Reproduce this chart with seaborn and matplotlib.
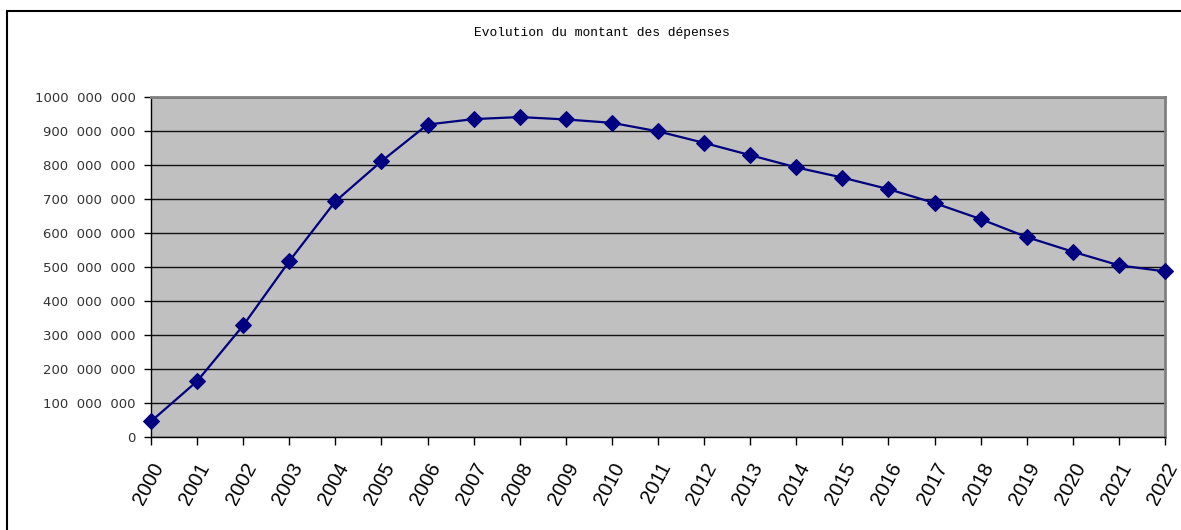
import matplotlib
matplotlib.use("Agg")
import matplotlib.pyplot as plt
from matplotlib.lines import Line2D
from matplotlib.ticker import FuncFormatter
import seaborn as sns
import pandas as pd

# Yearly spending amounts (euros)
years = list(range(2000, 2023))
montants = [
    46e6, 164e6, 328e6, 517e6, 693e6, 811e6, 919e6, 935e6, 941e6, 934e6,
    924e6, 899e6, 865e6, 829e6, 793e6, 763e6, 729e6, 688e6, 641e6, 588e6,
    545e6, 505e6, 487e6,
]
title = "Evolution du montant des dépenses"

df = pd.DataFrame({"annee": years, "montant": montants})

sns.set_style("white")
plt.rcParams["font.family"] = ["Liberation Sans", "DejaVu Sans"]

W, H = 1181, 530
fig = plt.figure(figsize=(W / 100, H / 100), dpi=100)
ax = fig.add_axes([151 / W, 1 - 437 / H, (1165 - 151) / W, (437 - 97) / H])
ax.set_facecolor("#C0C0C0")

sns.lineplot(data=df, x="annee", y="montant", ax=ax, color="#000080",
             linewidth=1.6, marker="D", markersize=8.5,
             markeredgecolor="#000080", markerfacecolor="#000080", zorder=5,
             clip_on=False)

ax.set_xlim(2000, 2022)
ax.set_ylim(0, 1e9)
ax.set_yticks([i * 1e8 for i in range(11)])
ax.set_xticks(years)


def fmt_montant(v, pos):
    v = int(round(v))
    if v == 0:
        return "0"
    groups = f"{v:,}".split(",")
    # the billion mark keeps its first group attached, as "1000 000 000"
    if v >= 1_000_000_000:
        groups = [groups[0] + groups[1]] + groups[2:]
    return "  ".join(groups)


ax.yaxis.set_major_formatter(FuncFormatter(fmt_montant))
ax.yaxis.grid(True, color="#111111", linewidth=1.0)
ax.xaxis.grid(False)
ax.set_axisbelow(True)

ax.set_xlabel("")
ax.set_ylabel("")

for side in ("top", "right"):
    ax.spines[side].set_color("#808080")
    ax.spines[side].set_linewidth(2.0)
for side in ("left", "bottom"):
    ax.spines[side].set_color("#000000")
    ax.spines[side].set_linewidth(1.0)
    ax.spines[side].set_visible(True)

ax.tick_params(axis="y", which="major", direction="out", length=5,
               width=1, color="#000000", labelsize=9.5, labelcolor="#333333",
               pad=6, left=True)
ax.tick_params(axis="x", which="major", direction="out", length=6,
               width=1, color="#000000", labelsize=14.5, labelcolor="#000000",
               pad=10, bottom=True)
for lab in ax.get_yticklabels():
    lab.set_fontfamily(["DejaVu Sans"])
for lab in ax.get_xticklabels():
    lab.set_rotation(62)
    lab.set_ha("right")
    lab.set_rotation_mode("anchor")

fig.text(602 / W, 1 - 33 / H, title, ha="center", va="center",
         fontsize=9.3, family=["Liberation Mono", "DejaVu Sans Mono"],
         color="#000000")

# Chart area frame (left and top edges)
fig.add_artist(Line2D([7 / W, 1.0], [1 - 11 / H, 1 - 11 / H],
                      transform=fig.transFigure, color="#000000", linewidth=1.5))
fig.add_artist(Line2D([7 / W, 7 / W], [0.0, 1 - 11 / H],
                      transform=fig.transFigure, color="#000000", linewidth=1.5))

fig.savefig("out.png", dpi=100, facecolor="white")
